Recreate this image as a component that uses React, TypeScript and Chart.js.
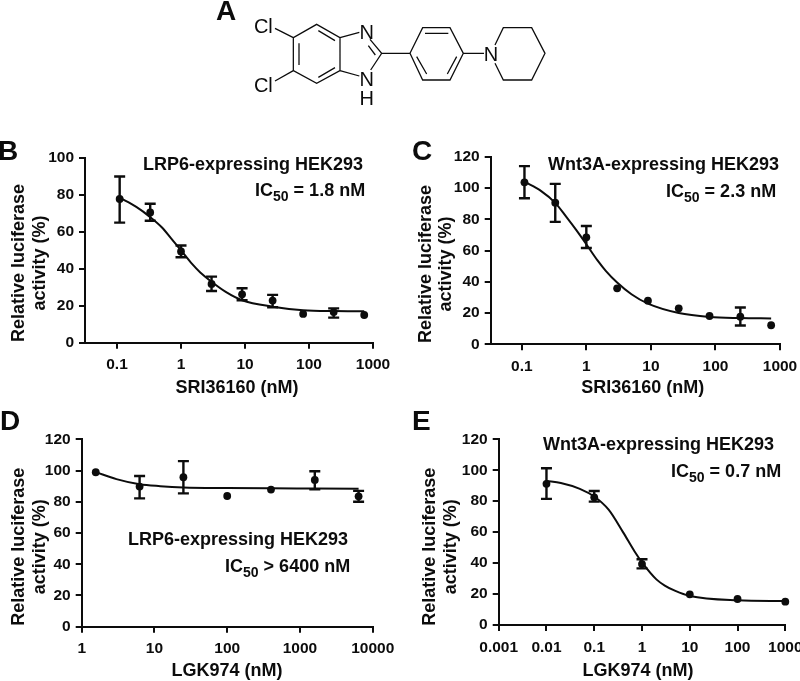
import React, { useEffect, useRef } from "react";
import { Chart, registerables } from "chart.js";

Chart.register(...registerables);

const FONT = "'Liberation Sans', Arial, sans-serif";
const INK = "#0c0c0c";

const bDoses = [0.11, 0.33, 1, 3, 9, 27, 81, 243, 729];
const bMeans = [77.8, 70.5, 49.4, 31.8, 26.2, 22.8, 15.6, 16.6, 15];
const bUpper = [90, 75.2, 52.6, 35.8, 29.5, 25.9, null, 18.6, null];
const bLower = [65, 66, 46.3, 28, 23, 19.2, null, 13.6, null];
const bCurveX = [0.11, 0.2, 0.33, 0.5, 0.7, 1, 1.5, 2, 3, 5, 9, 27, 81, 243, 729];
const bCurveY = [78.5, 73.5, 68, 62.5, 56.5, 50, 42.5, 38, 33, 27.5, 23, 19.5, 17.6, 17.1, 17];
const bXTicks = [0.1, 1, 10, 100, 1000];
const bYTicks = [0, 20, 40, 60, 80, 100];

const cDoses = [0.11, 0.33, 1, 3, 9, 27, 81, 243, 729];
const cMeans = [103.6, 90.6, 68.4, 35.8, 27.9, 23, 18.1, 17.7, 12.2];
const cUpper = [114, 102.6, 75.7, null, null, null, null, 23.5, null];
const cLower = [93.4, 78.3, 61.6, null, null, null, null, 12, null];
const cCurveX = [0.11, 0.2, 0.33, 0.5, 0.7, 1, 1.5, 2, 3, 5, 9, 27, 81, 243, 729];
const cCurveY = [104, 98, 90.5, 81, 73, 64, 53.5, 47, 39.5, 32, 26, 20, 17.5, 16.8, 16.5];
const cXTicks = [0.1, 1, 10, 100, 1000];
const cYTicks = [0, 20, 40, 60, 80, 100, 120];

const dDoses = [1.56, 6.25, 25, 100, 400, 1600, 6400];
const dMeans = [98.9, 89.7, 95.7, 83.7, 87.8, 94, 83.5];
const dUpper = [null, 96.5, 106, null, null, 99.5, 87];
const dLower = [null, 82.2, 85.4, null, null, 88, 80];
const dCurveX = [1.56, 3, 6.25, 12, 25, 100, 400, 1600, 6400];
const dCurveY = [99, 94.5, 91.2, 90, 89.2, 88.8, 88.6, 88.5, 88.4];
const dXTicks = [1, 10, 100, 1000, 10000];
const dYTicks = [0, 20, 40, 60, 80, 100, 120];

const eDoses = [0.01, 0.1, 1, 10, 100, 1000];
const eMeans = [91.2, 82.5, 39.4, 19.8, 16.8, 15.1];
const eUpper = [101.3, 86.6, 42.5, null, null, null];
const eLower = [81.5, 79.7, 36.6, null, null, null];
const eCurveX = [0.01, 0.02, 0.05, 0.1, 0.2, 0.4, 0.7, 1, 2, 3, 5, 10, 100, 1000];
const eCurveY = [93, 91.8, 88, 83, 74.5, 60, 47.5, 40.5, 29.5, 25.5, 22, 18.8, 16, 15.5];
const eXTicks = [0.001, 0.01, 0.1, 1, 10, 100, 1000];
const eYTicks = [0, 20, 40, 60, 80, 100, 120];

type Panel = {
  box: [number, number, number, number];
  plot: [number, number, number, number];
  xMin: number; xMax: number; yMax: number;
  doses: number[]; means: number[];
  upper: (number | null)[]; lower: (number | null)[];
  curveX: number[]; curveY: number[];
  xTicks: number[]; yTicks: number[];
};

const panels: Panel[] = [
  { box: [0, 130, 400, 270], plot: [85, 158, 373, 342.7], xMin: 0.0316, xMax: 1000, yMax: 100,
    doses: bDoses, means: bMeans, upper: bUpper, lower: bLower, curveX: bCurveX, curveY: bCurveY, xTicks: bXTicks, yTicks: bYTicks },
  { box: [400, 130, 400, 270], plot: [490.7, 156.7, 780, 344.3], xMin: 0.033, xMax: 1000, yMax: 120,
    doses: cDoses, means: cMeans, upper: cUpper, lower: cLower, curveX: cCurveX, curveY: cCurveY, xTicks: cXTicks, yTicks: cYTicks },
  { box: [0, 405, 400, 276], plot: [81.7, 439.3, 372.7, 626.7], xMin: 1, xMax: 10000, yMax: 120,
    doses: dDoses, means: dMeans, upper: dUpper, lower: dLower, curveX: dCurveX, curveY: dCurveY, xTicks: dXTicks, yTicks: dYTicks },
  { box: [400, 405, 400, 276], plot: [498.7, 439.3, 785.3, 625], xMin: 0.001, xMax: 1000, yMax: 120,
    doses: eDoses, means: eMeans, upper: eUpper, lower: eLower, curveX: eCurveX, curveY: eCurveY, xTicks: eXTicks, yTicks: eYTicks },
];

const errorBars = {
  id: "errorBars",
  afterDatasetsDraw(chart: any, _a: any, opts: any) {
    const { ctx, scales } = chart;
    ctx.save();
    ctx.strokeStyle = INK;
    ctx.lineWidth = 2.4;
    opts.doses.forEach((d: number, i: number) => {
      const hi = opts.upper[i];
      const lo = opts.lower[i];
      if (hi == null || lo == null) return;
      const x = scales.x.getPixelForValue(d);
      const yHi = scales.y.getPixelForValue(hi);
      const yLo = scales.y.getPixelForValue(lo);
      ctx.beginPath();
      ctx.moveTo(x, yHi); ctx.lineTo(x, yLo);
      ctx.moveTo(x - 5.5, yHi); ctx.lineTo(x + 5.5, yHi);
      ctx.moveTo(x - 5.5, yLo); ctx.lineTo(x + 5.5, yLo);
      ctx.stroke();
    });
    ctx.restore();
  },
};

function DoseChart({ p }: { p: Panel }) {
  const ref = useRef<HTMLCanvasElement>(null);
  useEffect(() => {
    const [bx, by, bw, bh] = p.box;
    const [l, t, r, b] = p.plot;
    const axisFont = { family: FONT, size: 15.5, weight: "bold" as const };
    const chart = new Chart(ref.current!, {
      type: "scatter",
      data: {
        datasets: [
          {
            data: p.curveX.map((x, i) => ({ x, y: p.curveY[i] })),
            showLine: true, pointRadius: 0, borderColor: INK, borderWidth: 2,
            cubicInterpolationMode: "monotone", clip: false, order: 2,
          } as any,
          {
            data: p.doses.map((x, i) => ({ x, y: p.means[i] })),
            showLine: false, pointRadius: 3.9, backgroundColor: INK, borderColor: INK,
            borderWidth: 0, clip: false, order: 1,
          } as any,
        ],
      },
      plugins: [errorBars],
      options: {
        responsive: false,
        animation: false,
        devicePixelRatio: 1,
        layout: { padding: { left: 0, top: t - by, right: bx + bw - r, bottom: 0 } },
        plugins: {
          legend: { display: false }, tooltip: { enabled: false }, title: { display: false },
          errorBars: { doses: p.doses, upper: p.upper, lower: p.lower },
        } as any,
        scales: {
          x: {
            type: "logarithmic", min: p.xMin, max: p.xMax,
            border: { display: true, color: INK, width: 2 },
            grid: { drawOnChartArea: false, drawTicks: true, tickLength: 6, color: INK, lineWidth: 2 },
            ticks: {
              color: INK, font: axisFont, padding: 7, maxRotation: 0, autoSkip: false,
              callback: (v: any) => String(v),
            },
            afterBuildTicks: (s: any) => { s.ticks = p.xTicks.map((value) => ({ value })); },
            afterFit: (s: any) => { s.height = by + bh - b; s.paddingLeft = 0; s.paddingRight = 0; },
          },
          y: {
            type: "linear", min: 0, max: p.yMax,
            border: { display: true, color: INK, width: 2 },
            grid: { drawOnChartArea: false, drawTicks: true, tickLength: 6, color: INK, lineWidth: 2 },
            ticks: { color: INK, font: axisFont, padding: 5, autoSkip: false },
            afterBuildTicks: (s: any) => { s.ticks = p.yTicks.map((value) => ({ value })); },
            afterFit: (s: any) => { s.width = l - bx; s.paddingTop = 0; s.paddingBottom = 0; },
          },
        },
      } as any,
    });
    return () => chart.destroy();
  }, [p]);
  return (
    <canvas
      ref={ref}
      width={p.box[2]}
      height={p.box[3]}
      style={{ position: "absolute", left: p.box[0], top: p.box[1], width: p.box[2], height: p.box[3] }}
    />
  );
}

const bold = { fontFamily: FONT, fontWeight: 700, fill: INK } as const;

function Ic({ x, y, tail, size = 18 }: { x: number; y: number; tail: string; size?: number }) {
  return (
    <text x={x} y={y} {...bold} fontSize={size}>
      IC<tspan fontSize={size * 0.78} dy={5}>50</tspan><tspan dy={-5}>{tail}</tspan>
    </text>
  );
}

function YTitle({ x1, x2, cy }: { x1: number; x2: number; cy: number }) {
  return (
    <g {...bold} fontSize={18} textAnchor="middle">
      <text transform={`translate(${x1} ${cy}) rotate(-90)`}>Relative luciferase</text>
      <text transform={`translate(${x2} ${cy}) rotate(-90)`}>activity (%)</text>
    </g>
  );
}

function Molecule() {
  const bonds = [
    "M350 73L420 113L420 212L350 250L280 212L280 113Z",
    "M297 130L297 195M355 92L405 122M405 203L355 232",
    "M225 85L280 113M225 243L280 212",
    "M420 113L478 97M510 118L545 160L512 210M420 212L478 228M505 137L526 165",
    "M545 160L630 160",
    "M630 160L668 83L750 83L790 160L750 240L668 240Z",
    "M675 100L745 100M650 170L680 222M770 170L742 222",
    "M790 160L852 160",
    "M885 135L910 83L995 83L1035 160L995 240L910 240L885 190",
  ];
  const label = { fontFamily: FONT, fill: INK, fontSize: 60, textAnchor: "middle" } as const;
  return (
    <svg x={200} y={0} width={360} height={115} viewBox="0 0 1080 345">
      <path d={bonds.join("")} fill="none" stroke={INK} strokeWidth={3.8} />
      <text x={190} y={99} {...label}>Cl</text>
      <text x={190} y={276} {...label}>Cl</text>
      <text x={500} y={116} {...label}>N</text>
      <text x={500} y={258} {...label}>N</text>
      <text x={500} y={314} {...label}>H</text>
      <text x={873} y={182} {...label}>N</text>
    </svg>
  );
}

export default function App() {
  return (
    <div style={{ position: "absolute", left: 0, top: 0, width: 800, height: 681, background: "#fff", overflow: "hidden" }}>
      {panels.map((p, i) => <DoseChart key={i} p={p} />)}
      <svg width={800} height={681} style={{ position: "absolute", left: 0, top: 0 }}>
        <Molecule />
        <g {...bold} fontSize={28}>
          <text x={216} y={20}>A</text>
          <text x={-2} y={160}>B</text>
          <text x={412} y={160}>C</text>
          <text x={0} y={430}>D</text>
          <text x={412} y={430}>E</text>
        </g>
        <g {...bold} fontSize={18}>
          <text x={143} y={170}>LRP6-expressing HEK293</text>
          <text x={548} y={170}>Wnt3A-expressing HEK293</text>
          <text x={128} y={545}>LRP6-expressing HEK293</text>
          <text x={543} y={450}>Wnt3A-expressing HEK293</text>
          <g textAnchor="middle">
            <text x={237} y={393}>SRI36160 (nM)</text>
            <text x={642.7} y={393}>SRI36160 (nM)</text>
            <text x={227} y={676}>LGK974 (nM)</text>
            <text x={638} y={676}>LGK974 (nM)</text>
          </g>
        </g>
        <Ic x={255} y={196} tail=" = 1.8 nM" />
        <Ic x={666} y={196.7} tail=" = 2.3 nM" />
        <Ic x={225} y={571.7} tail=" > 6400 nM" />
        <Ic x={671} y={476.7} tail=" = 0.7 nM" />
        <YTitle x1={24} x2={44.5} cy={263} />
        <YTitle x1={430.7} x2={451} cy={264} />
        <YTitle x1={24} x2={44.5} cy={546.7} />
        <YTitle x1={435} x2={456} cy={546.7} />
      </svg>
    </div>
  );
}
